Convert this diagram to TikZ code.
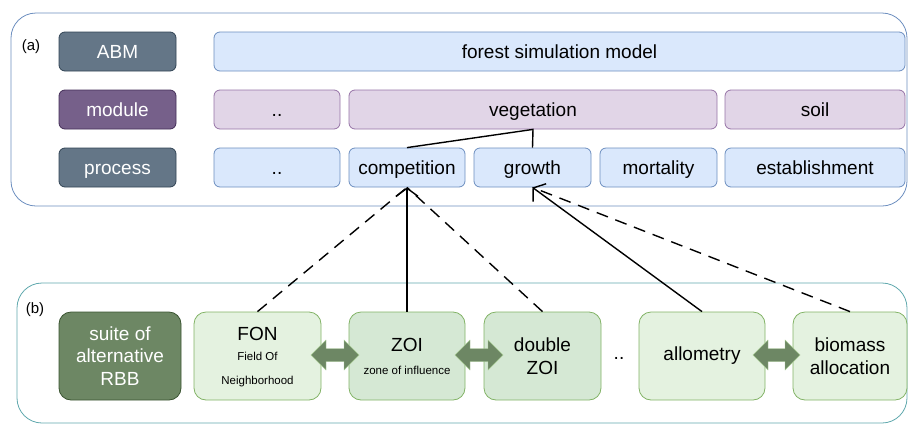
\documentclass[tikz,border=0pt]{standalone}
\usepackage{fontspec}
\setmainfont{Liberation Sans}
\usetikzlibrary{arrows.meta}
\definecolor{slatef}{HTML}{647687}
\definecolor{slated}{HTML}{314354}
\definecolor{purpf}{HTML}{76608A}
\definecolor{purpd}{HTML}{432D57}
\definecolor{bluef}{HTML}{DAE8FC}
\definecolor{blued}{HTML}{6C8EBF}
\definecolor{lilacf}{HTML}{E1D5E7}
\definecolor{lilacd}{HTML}{9673A6}
\definecolor{dgreenf}{HTML}{6D8764}
\definecolor{dgreend}{HTML}{3A5431}
\definecolor{greenf}{HTML}{D5E8D4}
\definecolor{lgreenf}{HTML}{E4F2E0}
\definecolor{greend}{HTML}{82B366}
\definecolor{tealline}{HTML}{5FA8AD}
\newcommand\dblarr[3]{%
  \fill[dgreenf,draw=greend!70,line width=0.4pt]
    (#1,#3) -- (#1+15,#3-15) -- (#1+15,#3-6.5) -- (#2-15,#3-6.5) -- (#2-15,#3-15)
    -- (#2,#3) -- (#2-15,#3+15) -- (#2-15,#3+6.5) -- (#1+15,#3+6.5) -- (#1+15,#3+15) -- cycle;}
\tikzset{
  base/.style={rounded corners=6pt, line width=0.8pt, minimum height=39pt, inner sep=0pt,
    font=\fontsize{19}{22}\selectfont, text height=16pt, text depth=2pt},
  slatebox/.style={base, fill=slatef, draw=slated, text=white},
  purpbox/.style={base, fill=purpf, draw=purpd, text=white},
  bluebox/.style={base, fill=bluef, draw=blued},
  lilacbox/.style={base, fill=lilacf, draw=lilacd},
  rbb/.style={rounded corners=12pt, line width=0.8pt, minimum height=88pt, inner sep=0pt,
    font=\fontsize{19}{22.5}\selectfont, align=center},
  dgbox/.style={rbb, fill=dgreenf, draw=dgreend, text=white},
  gbox/.style={rbb, fill=greenf, draw=greend},
  lgbox/.style={rbb, fill=lgreenf, draw=greend},
  panel/.style={rounded corners=25pt, line width=0.8pt},
  solidarrow/.style={line width=1.4pt, -{Straight Barb[length=8pt,width=22pt,line width=1.4pt]}},
  dashline/.style={line width=1.4pt, dash pattern=on 12pt off 8pt},
  tree/.style={line width=1.4pt},
  small/.style={font=\fontsize{11.5}{24}\selectfont, align=center},
  big/.style={font=\fontsize{19}{22}\selectfont}
}
\begin{document}
\begin{tikzpicture}[x=1pt,y=-1pt]
\useasboundingbox (0,0) rectangle (908,424);
% panels
\draw[panel, draw=blued] (11,13) rectangle (907,206);
\draw[panel, draw=tealline] (17,283) rectangle (907,423);
\node[font=\fontsize{15}{18}\selectfont] (la) at (31,47) {(a)};
\node[font=\fontsize{15}{18}\selectfont] (lb) at (35,310) {(b)};
% row 1
\node[slatebox, minimum width=117pt] (abm) at (117.5,51.5) {ABM};
\node[bluebox, minimum width=691pt] (fsm) at (559.5,51.5) {forest simulation model};
% row 2
\node[purpbox, minimum width=117pt] (module) at (117.5,109.5) {module};
\node[lilacbox, minimum width=126pt] (mdots) at (277,109.5) {..};
\node[lilacbox, minimum width=368pt] (veg) at (533,109.5) {vegetation};
\node[lilacbox, minimum width=180pt] (soil) at (815,109.5) {soil};
% row 3
\node[slatebox, minimum width=117pt] (process) at (117.5,167.5) {process};
\node[bluebox, minimum width=126pt] (pdots) at (277,167.5) {..};
\node[bluebox, minimum width=116pt] (comp) at (407,167.5) {competition};
\node[bluebox, minimum width=117pt] (growth) at (532.5,167.5) {growth};
\node[bluebox, minimum width=117pt] (mort) at (658.5,167.5) {mortality};
\node[bluebox, minimum width=180pt] (estab) at (815,167.5) {establishment};
% tree lines
\draw[tree] (comp.north) -- (veg.south) -- (growth.north);
% bottom row
\node[dgbox, minimum width=122pt] (suite) at (120,356) {suite of\\alternative\\RBB};
\node[lgbox, minimum width=127pt] (fon) at (257.5,356) {};
\node[big] (font) at (257.5,334) {FON};
\node[small] (fonsub) at (257.5,370) {Field Of\\Neighborhood};
\node[gbox, minimum width=116pt] (zoi) at (407,356) {};
\node[big] (zoit) at (407,345) {ZOI};
\node[small] (zoisub) at (407,370) {zone of influence};
\node[gbox, minimum width=117pt] (dzoi) at (542.5,356) {double\\ZOI};
\node[big] (bdots) at (619,358) {..};
\node[lgbox, minimum width=126pt] (allo) at (702,356) {allometry};
\node[lgbox, minimum width=114pt] (bio) at (850,356) {biomass\\allocation};
% double arrows
\dblarr{311}{359}{355}
\dblarr{455}{503}{355}
\dblarr{753}{800}{355}
% connectors
\draw[solidarrow] (zoi.north) -- (comp.south);
\draw[solidarrow] (allo.north) -- (growth.south);
\draw[dashline] (fon.north) -- (comp.south);
\draw[dashline] (dzoi.north) -- (comp.south);
\draw[dashline] (bio.north) -- (growth.south);
\end{tikzpicture}
\end{document}
